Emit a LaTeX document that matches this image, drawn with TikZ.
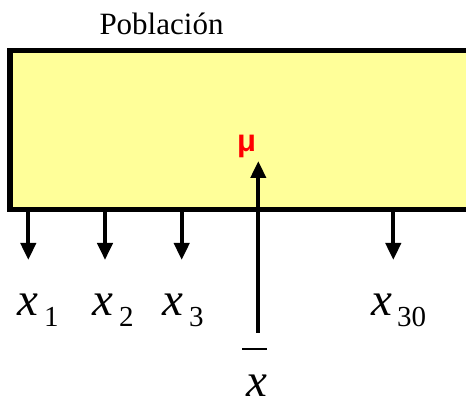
\documentclass[tikz,border=0pt]{standalone}
\usepackage{fontspec}
\setmainfont{Liberation Serif}
\newfontfamily\arialfont{Liberation Sans}
\usetikzlibrary{arrows.meta}
\definecolor{popfill}{RGB}{255,255,153}
\begin{document}
\begin{tikzpicture}[x=1pt,y=1pt,
  arr/.style={line width=4pt, -{Triangle[width=15pt,length=17pt]}},
  varx/.style={anchor=base west, inner sep=0pt, font=\fontsize{47}{50}\selectfont\itshape},
  subx/.style={anchor=base west, inner sep=0pt, font=\fontsize{29}{32}\selectfont}]
\useasboundingbox (0,0) rectangle (466,402);
\clip (0,0) rectangle (466,402);
\node[draw, fill=popfill, line width=5.3pt, outer sep=0pt, inner sep=0pt,
      anchor=north west, minimum width=480pt, minimum height=159pt] (pop) at (10,351.5) {};
\node[anchor=base, inner sep=0pt, font=\fontsize{31}{34}\selectfont] (title) at (161.5,367) {Población};
\node[anchor=base, inner sep=0pt, text=red, font=\arialfont\bfseries\fontsize{31}{34}\selectfont] (mu) at (246.5,250) {μ};
% sample arrows
\coordinate (a1) at (28.3,142);
\coordinate (a2) at (105,142);
\coordinate (a3) at (181.7,142);
\coordinate (a30) at (393.3,142);
\draw[arr] (pop.south -| a1) -- (a1);
\draw[arr] (pop.south -| a2) -- (a2);
\draw[arr] (pop.south -| a3) -- (a3);
\draw[arr] (pop.south -| a30) -- (a30);
% labels
\node[varx] (x1) at (17,87) {x};
\node[subx] (s1) at (44,75) {1};
\node[varx] (x2) at (92,87) {x};
\node[subx] (s2) at (119,75) {2};
\node[varx] (x3) at (162,87) {x};
\node[subx] (s3) at (189,75) {3};
\node[varx] (x30) at (371,87) {x};
\node[subx] (s30) at (397,75) {30};
% mean
\node[anchor=base, inner sep=0pt, font=\fontsize{47}{50}\selectfont\itshape] (xbar) at (257,6) {x};
\coordinate (barL) at (242,53);
\coordinate (barR) at (267,53);
\draw[line width=2pt] (barL) -- (barR);
\coordinate (up0) at (258.3,69.3);
\coordinate (up1) at (258.3,241);
\draw[arr] (up0) -- (up1);
\end{tikzpicture}
\end{document}
